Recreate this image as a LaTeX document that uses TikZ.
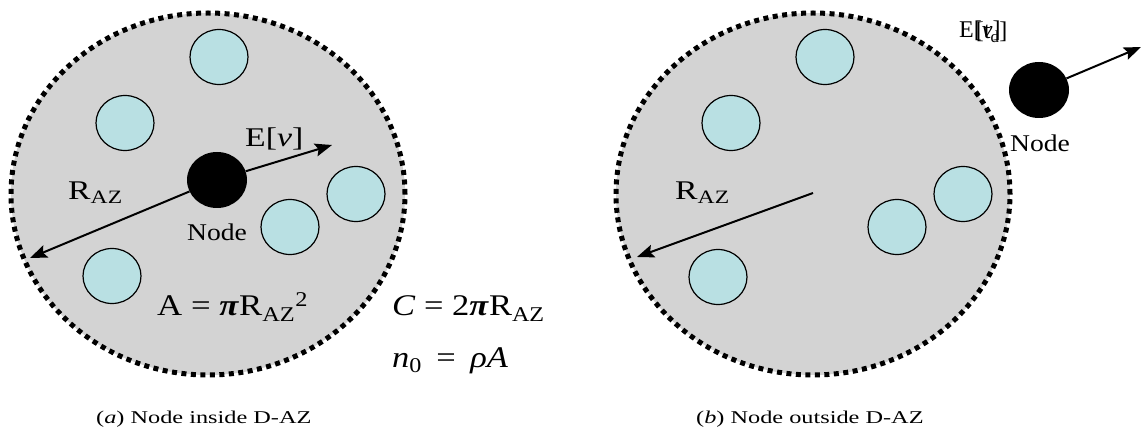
\documentclass[tikz,border=0pt]{standalone}
\usepackage{fontspec}
\setmainfont{Liberation Serif}
\usetikzlibrary{arrows.meta,shapes.geometric}
\definecolor{zonegray}{RGB}{211,211,211}
\definecolor{peercyan}{RGB}{185,224,227}
\newcommand{\hsc}[2]{\scalebox{#1}[1]{#2}}
\newcommand{\fsz}[1]{\fontsize{#1}{#1}\selectfont}
\begin{document}
\begin{tikzpicture}[x=1pt,y=-1pt,
  zone/.style={ellipse, draw=black, fill=zonegray, line width=5pt, dash pattern=on 5pt off 4.5pt, minimum width=394pt, minimum height=362pt, inner sep=0},
  peer/.style={ellipse, draw=black, fill=peercyan, line width=1.2pt, minimum width=58pt, minimum height=55pt, inner sep=0},
  mobile/.style={ellipse, fill=black, minimum width=60pt, minimum height=56pt, inner sep=0},
  vec/.style={line width=2pt, -{Stealth[length=17pt,width=13pt,inset=3pt]}},
  lbl/.style={inner sep=0, anchor=base west, text=black}]
\useasboundingbox (0,0) rectangle (1143,430);
% ---------- (a) ----------
\node[zone] (za) at (208,194) {};
\node[peer] (pa1) at (219,57) {};
\node[peer] (pa2) at (125,123) {};
\node[peer] (pa3) at (356,194) {};
\node[peer] (pa4) at (290,227) {};
\node[peer] (pa5) at (112,276) {};
\node[mobile] (na) at (217,180) {};
\coordinate (ta1) at (332,145);
\coordinate (ta2) at (30,258);
\draw[vec] (na) -- (ta1);
\draw[vec] (na) -- (ta2);
\node[lbl] (lev) at (245,147) {\fsz{27}\hsc{1.25}{E[\textit{v}]}};
\node[lbl] (lra) at (68,200) {\fsz{27}\hsc{1.25}{R\textsubscript{AZ}}};
\node[lbl] (lna) at (187,241) {\fsz{24}\hsc{1.15}{Node}};
\node[lbl] (lA) at (157,316) {\fsz{30}\hsc{1.16}{A = \textbf{\textit{π}}R\textsubscript{AZ}\textsuperscript{2}}};
\node[lbl] (lC) at (392,316) {\fsz{30}\hsc{1.15}{\textit{C} = 2\textbf{\textit{π}}R\textsubscript{AZ}}};
\node[lbl] (ln0) at (392,367) {\fsz{30}\hsc{1.15}{\textit{n}\textsubscript{0}\ \,=\ \,\textit{ρA}}};
\node[lbl] (capa) at (96,423) {\fsz{18}\hsc{1.35}{(\textit{a}) Node inside D-AZ}};
% ---------- (b) ----------
\node[zone] (zb) at (813,194) {};
\node[peer] (pb1) at (825,57) {};
\node[peer] (pb2) at (731,123) {};
\node[peer] (pb3) at (963,194) {};
\node[peer] (pb4) at (897,227) {};
\node[peer] (pb5) at (718,277) {};
\coordinate (cb) at (813,193);
\coordinate (tb) at (637,257);
\draw[vec] (cb) -- (tb);
\node[lbl] (lrb) at (675,200) {\fsz{27}\hsc{1.25}{R\textsubscript{AZ}}};
\node[mobile] (nb) at (1039,90) {};
\coordinate (tc) at (1141,47);
\draw[vec] (nb) -- (tc);
\node[lbl] (levb) at (959,38) {\fsz{24}E[\textit{v}]};
\node[lbl] (ltdb) at (961,39) {\fsz{24}\phantom{E}[t\textsubscript{d}]};
\node[lbl] (lnb) at (1010,152) {\fsz{24}\hsc{1.15}{Node}};
\node[lbl] (capb) at (696,423) {\fsz{18}\hsc{1.35}{(\textit{b}) Node outside D-AZ}};
\end{tikzpicture}
\end{document}
